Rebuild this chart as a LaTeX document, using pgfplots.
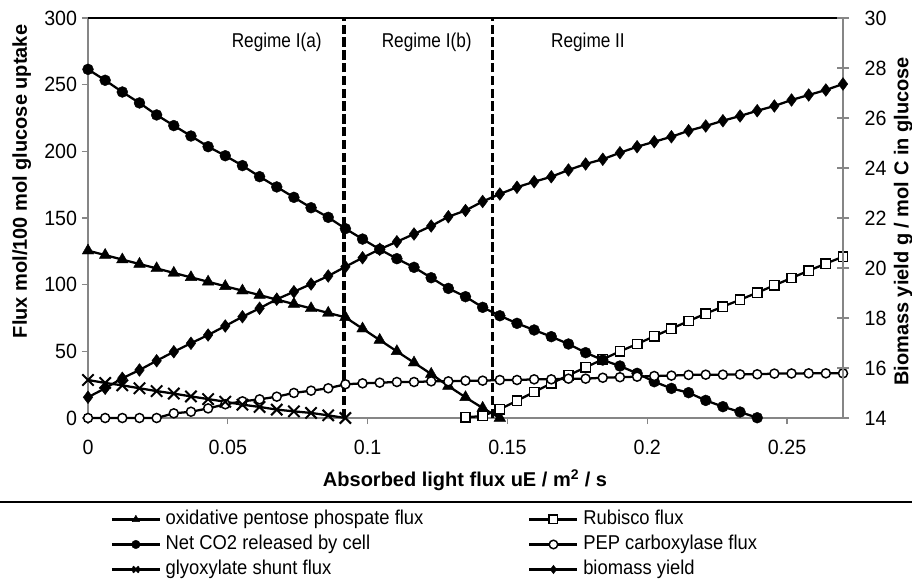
\documentclass[border=0pt]{standalone}
\usepackage{pgfplots}
\pgfplotsset{compat=1.18}
\usepackage{pgfplotstable}
\usepackage{fontspec}
\setmainfont{Liberation Sans}
\newfontfamily\cond[FakeStretch=0.92]{Liberation Sans}
\newfontfamily\condt[FakeStretch=0.95]{Liberation Sans}
\newfontfamily\condr[FakeStretch=0.86]{Liberation Sans}
\definecolor{axgray}{HTML}{868686}
\newcommand\tkf{\condt\fontsize{15.5}{18}\selectfont}
\newcommand\rgf{\condr\fontsize{15}{18}\selectfont}
\newcommand\lgf{\cond\fontsize{15}{18}\selectfont}
\newcommand\ttl{\fontsize{15}{18}\selectfont\bfseries}

\pgfplotsset{
 ser/.style={black, line width=1.7pt},
 opp/.style={ser, mark=triangle*, mark size=5pt, mark options={solid, line width=0.3pt}},
 co2/.style={ser, mark=*, mark size=4.1pt, mark options={solid, line width=0.3pt}},
 glx/.style={ser, mark=x, mark size=6pt, mark options={solid, line width=1.5pt}},
 rub/.style={ser, mark=square*, mark size=3.5pt, mark options={solid, fill=white, line width=1.1pt}},
 pep/.style={ser, mark=*, mark size=3.4pt, mark options={solid, fill=white, line width=1.1pt}},
 bio/.style={ser, mark=diamond*, mark size=4.8pt, mark options={solid, line width=0.3pt}},
}

\pgfplotstableread{
x y
0 125.5
0.006136 122.2
0.012273 118.8
0.018409 115.5
0.024545 112.2
0.030682 108.8
0.036818 105.5
0.042955 102.2
0.049091 98.8
0.055227 95.5
0.061364 92.2
0.0675 88.8
0.073636 85.5
0.079773 82.2
0.085909 78.8
0.092045 75.5
0.098182 67
0.104318 58.5
0.110455 50
0.116591 41.5
0.122727 33
0.128864 24
0.135 15.5
0.141136 7.5
0.147273 0
}\opp

\pgfplotstableread{
x y
0 261.5
0.006136 253.3
0.012273 244.5
0.018409 236.3
0.024545 227.3
0.030682 219.3
0.036818 211.5
0.042955 203.5
0.049091 196.7
0.055227 189.3
0.061364 181
0.0675 173.3
0.073636 165.5
0.079773 157.7
0.085909 150.5
0.092045 142
0.098182 134.2
0.104318 126.5
0.110455 119.5
0.116591 113
0.122727 105.2
0.128864 97.2
0.135 91
0.141136 83
0.147273 76.7
0.153409 71
0.159545 66
0.165682 61
0.171818 55.5
0.177955 49
0.184091 43.5
0.190227 39
0.196364 33.5
0.2025 27.2
0.208636 22.2
0.214773 19
0.220909 13.2
0.227045 8.5
0.233182 4.5
0.239318 0.2
}\cot

\pgfplotstableread{
x y
0 28.5
0.006136 26.3
0.012273 24.5
0.018409 22.3
0.024545 20.2
0.030682 18.3
0.036818 16.2
0.042955 14.2
0.049091 12.2
0.055227 10
0.061364 8.3
0.0675 6.3
0.073636 5
0.079773 3.8
0.085909 2
0.092045 0
}\glx

\pgfplotstableread{
x y
0.135 0.5
0.141136 1.5
0.147273 6.5
0.153409 13
0.159545 19.5
0.165682 26
0.171818 32
0.177955 38
0.184091 44
0.190227 50
0.196364 55.5
0.2025 61.3
0.208636 67
0.214773 72.7
0.220909 78.3
0.227045 83.5
0.233182 88.7
0.239318 94
0.245455 99.5
0.251591 105
0.257727 110.5
0.263864 115.8
0.27 121
}\rub

\pgfplotstableread{
x y
0 0
0.006136 0
0.012273 0
0.018409 0
0.024545 0
0.030682 3.5
0.036818 4.7
0.042955 7.2
0.049091 10.3
0.055227 12.5
0.061364 14
0.0675 16
0.073636 18.8
0.079773 20.5
0.085909 22.3
0.092045 25.3
0.098182 26
0.104318 26.5
0.110455 27
0.116591 27
0.122727 27.5
0.128864 27.5
0.135 28
0.141136 28
0.147273 28.5
0.153409 28.5
0.159545 29
0.165682 29
0.171818 29.5
0.177955 29.5
0.184091 30.2
0.190227 30.6
0.196364 31
0.2025 31.5
0.208636 31.8
0.214773 32.3
0.220909 32.5
0.227045 32.5
0.233182 32.7
0.239318 32.8
0.245455 33.3
0.251591 33.4
0.257727 33.5
0.263864 33.5
0.27 33.5
}\pep

\pgfplotstableread{
x y
0 14.83
0.006136 15.19
0.012273 15.59
0.018409 15.92
0.024545 16.29
0.030682 16.65
0.036818 16.99
0.042955 17.32
0.049091 17.68
0.055227 18.05
0.061364 18.39
0.0675 18.75
0.073636 19.05
0.079773 19.36
0.085909 19.68
0.092045 20.05
0.098182 20.41
0.104318 20.75
0.110455 21.05
0.116591 21.36
0.122727 21.68
0.128864 22.05
0.135 22.3
0.141136 22.66
0.147273 22.96
0.153409 23.23
0.159545 23.45
0.165682 23.65
0.171818 23.92
0.177955 24.16
0.184091 24.35
0.190227 24.61
0.196364 24.85
0.2025 25.05
0.208636 25.25
0.214773 25.49
0.220909 25.68
0.227045 25.89
0.233182 26.08
0.239318 26.29
0.245455 26.48
0.251591 26.72
0.257727 26.92
0.263864 27.12
0.27 27.36
}\bio

\begin{document}
\begin{tikzpicture}
\path[use as bounding box] (-66pt,-123.75pt) rectangle (618pt,313.5pt);

\begin{axis}[
 at={(0pt,0pt)}, anchor=south west,
 width=566.25pt, height=300pt, scale only axis,
 xmin=0, xmax=0.27, ymin=0, ymax=300, clip=false,
 axis x line*=bottom, axis y line*=left,
 axis line style={draw=axgray, line width=0.9pt},
 tick align=outside, major tick length=4.5pt,
 tick style={draw=axgray, line width=0.9pt},
 xtick={0,0.05,0.1,0.15,0.2,0.25},
 xticklabels={0,0.05,0.1,0.15,0.2,0.25},
 ytick={0,50,100,150,200,250,300},
 tick label style={font=\tkf},
 /pgf/number format/assume math mode=true,
 xticklabel style={inner sep=0pt, anchor=north, yshift=-11.9pt},
 yticklabel style={inner sep=0pt, anchor=east, xshift=-3.5pt},
]
\addplot[black, line width=2.6pt, dash pattern=on 7pt off 2.6pt, forget plot] coordinates {(0.09155,0) (0.09155,300)};
\addplot[black, line width=2.6pt, dash pattern=on 7pt off 2.6pt, forget plot] coordinates {(0.14458,0) (0.14458,300)};
\addplot[opp] table {\opp};
\addplot[rub] table {\rub};
\addplot[co2] table {\cot};
\addplot[pep] table {\pep};
\addplot[glx] table {\glx};
\draw[black, line width=0.9pt] (rel axis cs:0,1) -- (rel axis cs:1,1);
\node[font=\rgf] at (axis cs:0.06748,281.5) {Regime I(a)};
\node[font=\rgf] at (axis cs:0.12112,281.5) {Regime I(b)};
\node[font=\rgf] at (axis cs:0.1788,281.5) {Regime II};
\end{axis}

\begin{axis}[
 at={(0pt,0pt)}, anchor=south west,
 width=566.25pt, height=300pt, scale only axis,
 xmin=0, xmax=0.27, ymin=14, ymax=30, clip=false,
 axis x line=none, axis y line*=right,
 axis line style={draw=axgray, line width=0.9pt},
 tick align=center, major tick length=9pt,
 tick style={draw=axgray, line width=0.9pt},
 ytick={14,16,18,20,22,24,26,28,30},
 tick label style={font=\tkf},
 /pgf/number format/assume math mode=true,
 yticklabel style={inner sep=0pt, anchor=west, xshift=11.5pt},
 legend columns=2, legend cell align=left,
 legend image code/.code={\draw[mark repeat=2,mark phase=2,#1] plot coordinates {(0pt,0pt) (18pt,0pt) (36pt,0pt)};},
 legend image post style={mark size=3.2pt},
 legend style={at={(axis description cs:0.0301,-0.2295)}, anchor=north west,
   draw=none, fill=none, inner sep=0pt, outer sep=0pt, font=\lgf, row sep=4.25pt,
   nodes={inner sep=0pt, text height=11pt, text depth=3.5pt},
   /tikz/every odd column/.style={column sep=3.5pt},
   /tikz/every even column/.style={column sep=0pt}},
]
\addlegendimage{opp}
\addlegendentry{\makebox[272pt][l]{oxidative pentose phospate flux}}
\addlegendimage{rub}
\addlegendentry{Rubisco flux}
\addlegendimage{co2}
\addlegendentry{\makebox[272pt][l]{Net CO2 released by cell}}
\addlegendimage{pep}
\addlegendentry{PEP carboxylase flux}
\addlegendimage{glx}
\addlegendentry{\makebox[272pt][l]{glyoxylate shunt flux}}
\addplot[bio] table {\bio};
\addlegendentry{biomass yield}
\end{axis}

\node[font=\ttl] at (282.75pt,-46.5pt) {Absorbed light flux uE / m\textsuperscript{2} / s};
\node[font=\ttl, rotate=90] at (-49.7pt,177.4pt) {Flux mol/100 mol glucose uptake};
\node[font=\ttl, rotate=90, inner sep=0pt] at (611.5pt,147.4pt) {Biomass yield g / mol C in glucose};
\draw[black, line width=1.2pt] (-66pt,-63pt) -- (618pt,-63pt);
\end{tikzpicture}
\end{document}
